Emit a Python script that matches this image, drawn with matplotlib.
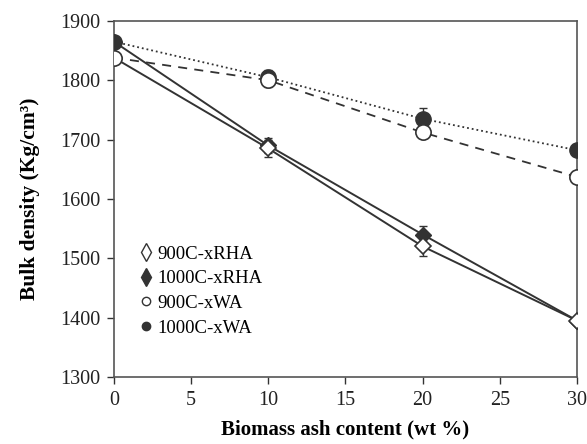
import matplotlib.pyplot as plt

plt.rcParams['font.family'] = ['Liberation Serif', 'DejaVu Serif']

ash = [0, 10, 20, 30]
rha900 = [1838, 1685, 1520, 1395]
rha1000 = [1865, 1690, 1540, 1395]
wa900 = [1838, 1800, 1712, 1637]
wa1000 = [1865, 1805, 1735, 1682]
rha900_err = [0, 15, 17, 0]
rha1000_err = [0, 12, 15, 0]
wa900_err = [0, 12, 0, 0]
wa1000_err = [0, 12, 18, 0]

dark = '#333333'

fig = plt.figure(figsize=(5.87, 4.44), dpi=100)
ax = fig.add_axes([0.194, 0.151, 0.789, 0.802])

# lines
ax.plot(ash, rha900, '-', color=dark, lw=1.4, zorder=2)
ax.plot(ash, rha1000, '-', color=dark, lw=1.4, zorder=2)
ax.plot(ash, wa900, '--', color=dark, lw=1.3, dashes=(5, 4), zorder=2)
ax.plot(ash, wa1000, ':', color=dark, lw=1.3, zorder=2)

ebkw = dict(ls='none', ecolor=dark, elinewidth=1, capsize=3, capthick=1, zorder=3)
ax.errorbar(ash, rha900, yerr=rha900_err, **ebkw)
ax.errorbar(ash, rha1000, yerr=rha1000_err, **ebkw)
ax.errorbar(ash, wa900, yerr=wa900_err, **ebkw)
ax.errorbar(ash, wa1000, yerr=wa1000_err, **ebkw)

# markers (open ones drawn on top, as in the original)
ax.plot(ash, rha1000, 'D', ms=8, mfc=dark, mec=dark, ls='none', zorder=4)
ax.plot(ash, rha900, 'D', ms=8, mfc='white', mec=dark, mew=1.2, ls='none', zorder=4)
ax.plot(ash, wa1000, 'o', ms=11, mfc=dark, mec=dark, ls='none', zorder=5)
ax.plot(ash, wa900, 'o', ms=11, mfc='white', mec=dark, mew=1.2, ls='none', zorder=5)

# legend
h1, = ax.plot([], [], 'd', ms=9, mfc='white', mec=dark, ls='none')
h2, = ax.plot([], [], 'd', ms=9, mfc=dark, mec=dark, ls='none')
h3, = ax.plot([], [], 'o', ms=6, mfc='white', mec=dark, ls='none')
h4, = ax.plot([], [], 'o', ms=6, mfc=dark, mec=dark, ls='none')
ax.legend([h1, h2, h3, h4], ['900C-xRHA', '1000C-xRHA', '900C-xWA', '1000C-xWA'],
          loc='upper left', bbox_to_anchor=(0.04, 0.39), frameon=False,
          fontsize=13.5, handlelength=0.6, handletextpad=0.35, labelspacing=0.4,
          borderaxespad=0)

ax.set_xlim(0, 30)
ax.set_ylim(1300, 1900)
ax.set_xticks([0, 5, 10, 15, 20, 25, 30])
ax.set_yticks(range(1300, 1901, 100))
ax.tick_params(direction='out', length=5, width=1, labelsize=14.5, colors=dark,
               labelcolor='#222222', pad=5)
for s in ax.spines.values():
    s.set_color('#555555')
    s.set_linewidth(1.2)

ax.set_xlabel('Biomass ash content (wt %)', fontsize=15, fontweight='bold', labelpad=7)
ax.set_ylabel('Bulk density (Kg/cm³)', fontsize=15.5, fontweight='bold', labelpad=14)

plt.savefig('out.png', dpi=100)
